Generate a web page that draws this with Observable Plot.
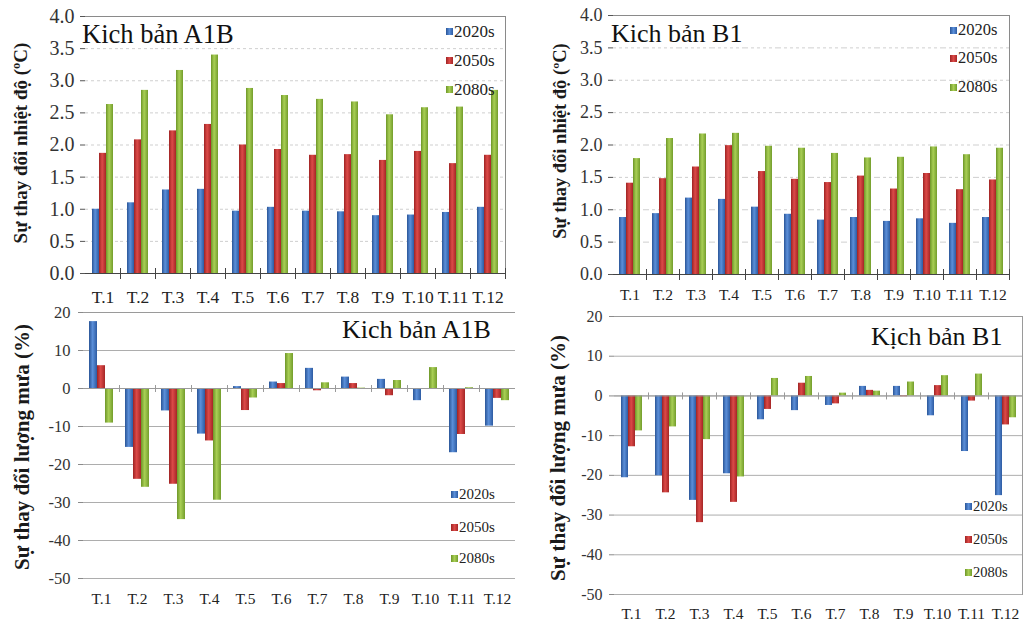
<!DOCTYPE html>
<html><head><meta charset="utf-8">
<script src="https://cdn.jsdelivr.net/npm/d3@7"></script>
<script src="https://cdn.jsdelivr.net/npm/@observablehq/plot@0.6"></script>
<style>
body{margin:0;background:#fff;font-family:"Liberation Serif","Times New Roman",serif;}
#root{position:relative;width:1025px;height:625px;overflow:hidden;background:#fff;}
.panel{position:absolute;}
.panel svg{display:block;}
.panel svg text{font-family:"Liberation Serif","Times New Roman",serif;}
.title{position:absolute;white-space:nowrap;line-height:1;color:#111;}
.ytitle{position:absolute;white-space:nowrap;font-weight:bold;line-height:1;transform:translate(-50%,-50%) rotate(-90deg);color:#1a1a1a;}
.leg{position:absolute;display:flex;align-items:center;line-height:1;white-space:nowrap;color:#222;}
.sw{display:inline-block;width:7px;height:7px;margin-right:1px;}
</style></head><body>
<svg width="0" height="0" style="position:absolute;left:0;top:0"><defs>
<linearGradient id="gBlue" x1="0" x2="1" y1="0" y2="0">
<stop offset="0" stop-color="#2a5597"/><stop offset="0.45" stop-color="#5b8fd9"/><stop offset="1" stop-color="#2d5ba2"/></linearGradient>
<linearGradient id="gRed" x1="0" x2="1" y1="0" y2="0">
<stop offset="0" stop-color="#9e2323"/><stop offset="0.45" stop-color="#dc4a48"/><stop offset="1" stop-color="#a52626"/></linearGradient>
<linearGradient id="gGreen" x1="0" x2="1" y1="0" y2="0">
<stop offset="0" stop-color="#6d9628"/><stop offset="0.45" stop-color="#a9cf55"/><stop offset="1" stop-color="#739d2c"/></linearGradient>
</defs></svg>
<div id="root"></div>
<script>
const months = ["T.1","T.2","T.3","T.4","T.5","T.6","T.7","T.8","T.9","T.10","T.11","T.12"];
const series = ["2020s","2050s","2080s"];

const tempA1B_2020s = [1.00,1.10,1.30,1.31,0.97,1.03,0.97,0.96,0.90,0.91,0.95,1.03];
const tempA1B_2050s = [1.87,2.08,2.22,2.32,2.00,1.93,1.84,1.85,1.76,1.90,1.71,1.84];
const tempA1B_2080s = [2.63,2.85,3.16,3.40,2.88,2.77,2.71,2.67,2.47,2.58,2.59,2.85];

const tempB1_2020s = [0.88,0.94,1.18,1.16,1.04,0.93,0.84,0.88,0.82,0.86,0.79,0.88];
const tempB1_2050s = [1.41,1.48,1.66,1.99,1.59,1.47,1.42,1.52,1.32,1.56,1.31,1.46];
const tempB1_2080s = [1.79,2.10,2.17,2.18,1.98,1.95,1.87,1.80,1.81,1.97,1.85,1.95];

const rainA1B_2020s = [17.6,-15.5,-5.9,-12.0,0.5,1.7,5.3,3.0,2.4,-3.2,-16.9,-9.9];
const rainA1B_2050s = [6.0,-23.9,-25.2,-13.8,-5.8,1.3,-0.6,1.3,-1.9,-0.2,-12.1,-2.6];
const rainA1B_2080s = [-9.1,-26.0,-34.5,-29.4,-2.5,9.2,1.5,0.1,2.1,5.5,0.2,-3.2];

const rainB1_2020s = [-20.6,-20.1,-26.3,-19.6,-6.0,-3.7,-2.4,2.4,2.4,-5.0,-14.0,-25.1];
const rainB1_2050s = [-12.8,-24.4,-31.9,-26.8,-3.4,3.2,-2.0,1.4,-0.2,2.6,-1.3,-7.3];
const rainB1_2080s = [-8.8,-7.8,-11.0,-20.4,4.4,4.9,0.7,1.2,3.5,5.1,5.5,-5.5];

const tempTicks = [0,0.5,1,1.5,2,2.5,3,3.5,4];
const rainTicks = [-50,-40,-30,-20,-10,0,10,20];

const tempYLabel = "Sự thay đổi nhiệt độ (ºC)";
const rainYLabel = "Sự thay đổi lượng mưa (%)";

const serif = '"Liberation Serif", "Times New Roman", serif';

function table(a, b, c) {
  const cols = [a, b, c];
  return months.flatMap((m, i) => series.map((s, j) => ({month: m, series: s, value: cols[j][i]})));
}

function panel(cfg) {
  const ih = cfg.height - cfg.mt - cfg.mb;
  const zeroY = ih * cfg.domain[1] / (cfg.domain[1] - cfg.domain[0]);
  return Plot.plot({
    width: cfg.width, height: cfg.height,
    marginLeft: cfg.ml, marginRight: cfg.mr, marginTop: cfg.mt, marginBottom: cfg.mb,
    style: {fontFamily: serif, fontSize: cfg.tickFs + "px", background: "transparent", color: "#333", overflow: "visible"},
    fx: {domain: months, padding: 0},
    x: {domain: series, paddingInner: 0, paddingOuter: 0.72, axis: null},
    y: {domain: cfg.domain, axis: null},
    color: {domain: series, range: ["url(#gBlue)", "url(#gRed)", "url(#gGreen)"]},
    marks: [
      Plot.gridY(cfg.grid, {stroke: cfg.gridColor, strokeOpacity: 1, strokeDasharray: cfg.dash}),
      Plot.ruleY([cfg.domain[1]], {stroke: cfg.border}),
      Plot.frame({anchor: "right", facetAnchor: "right", stroke: cfg.border}),
      Plot.barY(cfg.data, {fx: "month", x: "series", y: "value", fill: "series"}),
      Plot.ruleY([0], {stroke: cfg.zero}),
      Plot.frame({anchor: "right", insetTop: zeroY - cfg.tk, insetBottom: ih - zeroY - cfg.tk, stroke: cfg.zero}),
      Plot.axisY({ticks: cfg.ticks, tickFormat: cfg.fmt, tickSize: 5, tickPadding: cfg.yPad, fontSize: cfg.tickFs, fontFamily: serif, label: null, line: true, stroke: cfg.axis, fill: "#333"}),
      Plot.axisFx({anchor: "bottom", tickSize: 0, tickPadding: cfg.xPad, fontSize: cfg.xFs, fontFamily: serif, label: null, fill: "#222"})
    ]
  });
}

const root = document.getElementById("root");
const swatch = {"2020s": "linear-gradient(90deg,#2a5597,#5b8fd9,#2d5ba2)", "2050s": "linear-gradient(90deg,#9e2323,#dc4a48,#a52626)", "2080s": "linear-gradient(90deg,#6d9628,#a9cf55,#739d2c)"};

function place(p) {
  const div = document.createElement("div");
  div.className = "panel";
  div.style.left = p.left + "px"; div.style.top = p.top + "px";
  div.style.width = p.width + "px"; div.style.height = p.height + "px";
  if (p.bg) div.style.background = p.bg;
  if (p.z) div.style.zIndex = p.z;
  div.appendChild(panel(p));
  root.appendChild(div);
  const t = document.createElement("div");
  t.className = "title"; t.textContent = p.title;
  t.style.left = (p.titleX - p.left) + "px"; t.style.top = (p.titleY - p.top) + "px"; t.style.fontSize = p.titleFs + "px";
  div.appendChild(t);
  const yt = document.createElement("div");
  yt.className = "ytitle"; yt.textContent = p.ylabel;
  yt.style.left = (p.ytX - p.left) + "px"; yt.style.top = (p.ytY - p.top) + "px"; yt.style.fontSize = p.ytFs + "px";
  div.appendChild(yt);
  series.forEach((s, i) => {
    const l = document.createElement("div");
    l.className = "leg";
    l.style.left = (p.legX - p.left) + "px";
    l.style.top = (p.legY[i] - p.top - 10) + "px";
    l.style.height = "20px";
    l.style.fontSize = p.legFs + "px";
    const sw = document.createElement("span"); sw.className = "sw"; sw.style.background = swatch[s];
    l.appendChild(sw);
    l.appendChild(document.createTextNode(s));
    div.appendChild(l);
  });
}

const fmt1 = d3.format(".1f");
const fmt0 = d => String(d);

place({left: 0, top: 0, width: 512, height: 310, ml: 81, mr: 3, mt: 16, mb: 37,
  data: table(tempA1B_2020s, tempA1B_2050s, tempA1B_2080s), domain: [0, 4], ticks: tempTicks, fmt: fmt1,
  grid: tempTicks.slice(1, -1), dash: "3,3", gridColor: "#cfcfcf", border: "#8a8a8a", zero: "#444", axis: "#555",
  tickFs: 20, xFs: 17.5, xPad: 17, yPad: 6, tk: 5,
  title: "Kich bản A1B", titleX: 82, titleY: 21, titleFs: 26.5,
  ylabel: tempYLabel, ytX: 20, ytY: 143, ytFs: 19,
  legX: 446, legY: [31, 60, 89], legFs: 17});

place({left: 512, top: 0, width: 513, height: 310, ml: 99, mr: 14, mt: 15, mb: 36,
  data: table(tempB1_2020s, tempB1_2050s, tempB1_2080s), domain: [0, 4], ticks: tempTicks, fmt: fmt1,
  grid: tempTicks.slice(1, -1), dash: "3,3", gridColor: "#cfcfcf", border: "#8a8a8a", zero: "#444", axis: "#555",
  tickFs: 18, xFs: 15.5, xPad: 14, yPad: 6, tk: 5,
  title: "Kich bản B1", titleX: 611, titleY: 21, titleFs: 26,
  ylabel: tempYLabel, ytX: 560, ytY: 141, ytFs: 18.5,
  legX: 950, legY: [30, 58, 87], legFs: 16.5});

place({left: 0, top: 300, width: 516, height: 325, ml: 81, mr: 0, mt: 12, mb: 47,
  data: table(rainA1B_2020s, rainA1B_2050s, rainA1B_2080s), domain: [-50, 20], ticks: rainTicks, fmt: fmt0,
  grid: rainTicks, dash: null, gridColor: "#adadad", border: "#9a9a9a", zero: "#9a9a9a", axis: "#8a8a8a",
  tickFs: 16.5, xFs: 15.5, xPad: 14, yPad: 8, tk: 3,
  title: "Kich bản A1B", titleX: 342, titleY: 317, titleFs: 26,
  ylabel: rainYLabel, ytX: 22, ytY: 447, ytFs: 21,
  legX: 451, legY: [494, 527, 558], legFs: 15});

place({left: 515, top: 305, width: 510, height: 320, ml: 97, mr: 1, mt: 11, mb: 31,
  data: table(rainB1_2020s, rainB1_2050s, rainB1_2080s), domain: [-50, 20], ticks: rainTicks, fmt: fmt0,
  grid: rainTicks, dash: null, gridColor: "#adadad", border: "#9a9a9a", zero: "#9a9a9a", axis: "#8a8a8a",
  tickFs: 16, xFs: 15.5, xPad: 13, yPad: 7, tk: 3, bg: "#fff", z: 2,
  title: "Kịch bản B1", titleX: 871, titleY: 324, titleFs: 26,
  ylabel: rainYLabel, ytX: 558, ytY: 458, ytFs: 21,
  legX: 965, legY: [506, 539, 572], legFs: 14.5});
</script>
</body></html>
